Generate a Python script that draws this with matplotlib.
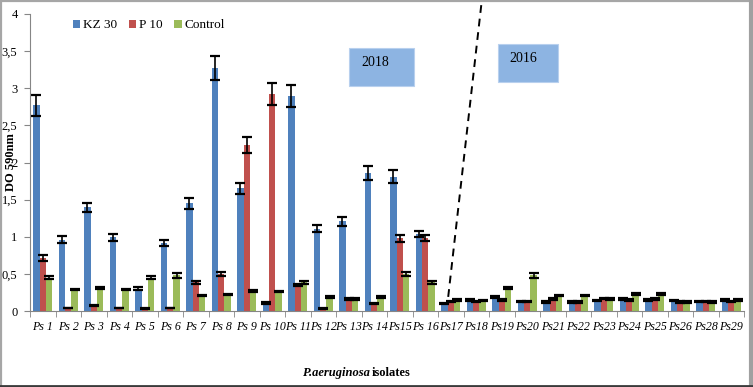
import matplotlib
matplotlib.use("Agg")
import matplotlib.pyplot as plt
import numpy as np
from matplotlib.patches import Rectangle
from matplotlib.lines import Line2D

# data
isolates = ['Ps 1', 'Ps 2', 'Ps 3', 'Ps 4', 'Ps 5', 'Ps 6', 'Ps 7', 'Ps 8', 'Ps 9',
            'Ps 10', 'Ps 11', 'Ps 12', 'Ps 13', 'Ps 14', 'Ps15', 'Ps 16', 'Ps17',
            'Ps18', 'Ps19', 'Ps20', 'Ps21', 'Ps22', 'Ps23', 'Ps24', 'Ps25', 'Ps26',
            'Ps28', 'Ps29']
kz30 = [2.77, 0.96, 1.40, 0.99, 0.30, 0.91, 1.45, 3.27, 1.65, 0.11, 2.90, 1.11, 1.21, 1.86,
        1.81, 1.04, 0.10, 0.15, 0.19, 0.13, 0.12, 0.12, 0.14, 0.16, 0.15, 0.14, 0.13, 0.15]
p10 = [0.71, 0.04, 0.07, 0.04, 0.03, 0.04, 0.39, 0.50, 2.24, 2.92, 0.35, 0.03, 0.16, 0.10,
       0.98, 0.98, 0.13, 0.13, 0.15, 0.13, 0.16, 0.12, 0.17, 0.15, 0.16, 0.12, 0.13, 0.13]
control = [0.45, 0.29, 0.31, 0.29, 0.45, 0.48, 0.21, 0.22, 0.27, 0.26, 0.39, 0.19, 0.16, 0.19,
           0.50, 0.39, 0.15, 0.14, 0.31, 0.48, 0.21, 0.21, 0.16, 0.23, 0.23, 0.12, 0.12, 0.15]
kz30_err = [0.14, 0.05, 0.06, 0.05, 0.02, 0.04, 0.07, 0.16, 0.08, 0.01, 0.15, 0.05, 0.06, 0.09,
            0.09, 0.04, 0.01, 0.01, 0.01, 0.01, 0.01, 0.01, 0.01, 0.01, 0.01, 0.01, 0.01, 0.01]
p10_err = [0.04, 0.005, 0.005, 0.005, 0.005, 0.005, 0.02, 0.03, 0.11, 0.15, 0.02, 0.005, 0.01, 0.01,
           0.05, 0.04, 0.01, 0.01, 0.01, 0.01, 0.01, 0.01, 0.01, 0.01, 0.01, 0.01, 0.01, 0.01]
control_err = [0.02, 0.01, 0.01, 0.01, 0.02, 0.03, 0.01, 0.01, 0.01, 0.01, 0.02, 0.01, 0.01, 0.01,
               0.03, 0.02, 0.01, 0.01, 0.01, 0.03, 0.01, 0.01, 0.01, 0.01, 0.01, 0.01, 0.01, 0.01]
series_names = ['KZ 30', 'P 10', 'Control']
y_ticks = [0, 0.5, 1, 1.5, 2, 2.5, 3, 3.5, 4]
y_ticklabels = ['0', '0,5', '1', '1,5', '2', '2,5', '3', '3,5', '4']

plt.rcParams['font.family'] = ['Liberation Serif', 'DejaVu Serif']

W, H = 753, 387
fig = plt.figure(figsize=(W / 100, H / 100), dpi=100)
ax = fig.add_axes([30 / W, 1 - 311 / H, 714 / W, 297 / H])

colors = ['#4F81BD', '#C0504D', '#9BBB59']
x = np.arange(len(isolates))
bw = 0.25
for k, (vals, errs) in enumerate([(kz30, kz30_err), (p10, p10_err), (control, control_err)]):
    ax.bar(x + (k - 1) * bw, vals, bw, color=colors[k], label=series_names[k],
           yerr=errs, error_kw=dict(ecolor='black', elinewidth=1.2, capsize=3.5, capthick=1.6),
           zorder=2)

ax.set_xlim(-0.5, len(isolates) - 0.5)
ax.set_ylim(0, 4)
ax.set_yticks(y_ticks)
ax.set_yticklabels(y_ticklabels, fontsize=9)
ax.set_xticks(x)
ax.set_xticklabels(isolates, fontsize=8.6, style='italic')
ax.set_xticks(np.arange(-0.5, len(isolates)), minor=True)
ax.tick_params(axis='x', which='major', length=0, pad=7)
ax.tick_params(axis='x', which='minor', length=4, color='#868686')
ax.tick_params(axis='y', length=4, color='#868686', pad=5)
for s in ['top', 'right']:
    ax.spines[s].set_visible(False)
for s in ['left', 'bottom']:
    ax.spines[s].set_color('#868686')

# y label sits over the tick labels, as in the original
fig.text(11 / W, 1 - 162 / H, 'DO 590nm', fontsize=9, fontweight='bold',
         rotation=90, ha='center', va='center')

fig.text(370 / W, 1 - 373 / H, 'P.aeruginosa', fontsize=9, fontweight='bold',
         style='italic', ha='right', va='center')
fig.text(372 / W, 1 - 373 / H, 'isolates', fontsize=9, fontweight='bold',
         ha='left', va='center')

ax.legend(loc='center left', bbox_to_anchor=(73 / W, 1 - 25.5 / H),
          bbox_transform=fig.transFigure, ncol=3, frameon=False, fontsize=9.5,
          handlelength=0.55, handleheight=0.55, handletextpad=0.2, columnspacing=0.9,
          borderpad=0, borderaxespad=0)

# year boxes
fig.patches.append(Rectangle((349 / W, 1 - 86 / H), 65 / W, 38 / H, transform=fig.transFigure,
                             facecolor='#8DB4E2', edgecolor='#B8D0EE', lw=0.8, figure=fig))
fig.text(375 / W, 1 - 63 / H, '2018', fontsize=10, ha='center', va='center')
fig.patches.append(Rectangle((498 / W, 1 - 82 / H), 60 / W, 38 / H, transform=fig.transFigure,
                             facecolor='#8DB4E2', edgecolor='#B8D0EE', lw=0.8, figure=fig))
fig.text(523 / W, 1 - 58 / H, '2016', fontsize=10, ha='center', va='center')

# dashed separator
ax.plot([15.90, 17.21], [0.19, 4.16], color='black', lw=1.4, ls=(0, (4, 3)),
        clip_on=False, zorder=3)

# outer frame
fig.lines.append(Line2D([0, 1], [1 - 0.8 / H, 1 - 0.8 / H], transform=fig.transFigure, color='#A6A6A6', lw=1.6))
fig.lines.append(Line2D([0.8 / W, 0.8 / W], [0, 1], transform=fig.transFigure, color='#A6A6A6', lw=1.6))
fig.lines.append(Line2D([1 - 2 / W, 1 - 2 / W], [0, 1], transform=fig.transFigure, color='#A0A0A0', lw=3))
fig.lines.append(Line2D([0, 1], [1.2 / H, 1.2 / H], transform=fig.transFigure, color='#3A3A3A', lw=2))

fig.savefig('out.png', dpi=100)
